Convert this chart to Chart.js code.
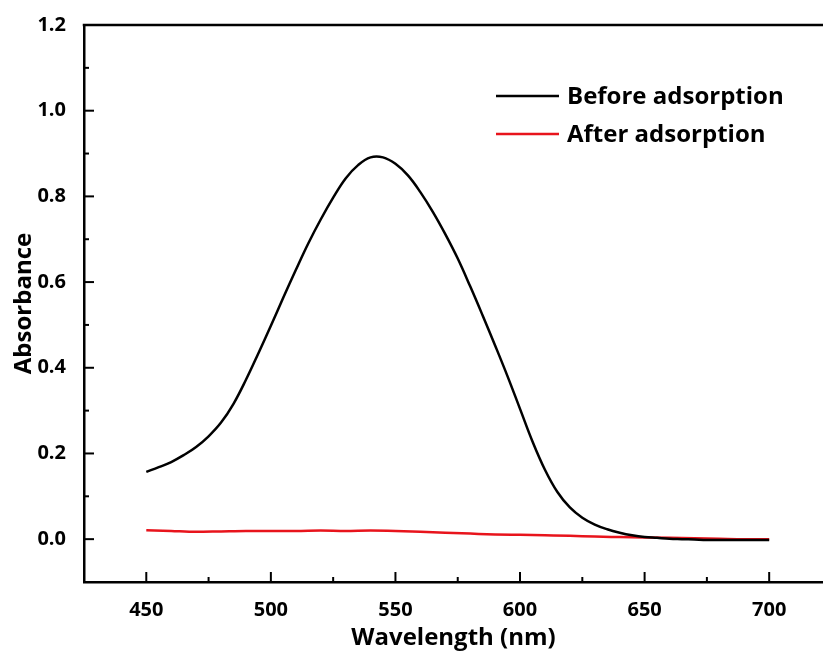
<!DOCTYPE html>
<html>
<head>
<meta charset="utf-8">
<script src="https://cdn.jsdelivr.net/npm/chart.js@4.4.1/dist/chart.umd.min.js"></script>
<style>
  html, body { margin: 0; padding: 0; background: #fff; }
  #wrap { width: 823px; height: 653px; }
</style>
</head>
<body>
<div id="wrap"><canvas id="uvChart" width="823" height="653"></canvas></div>
<script>
// UV-vis spectra, values
const wavelengthBefore = [450, 455, 460, 465, 470, 475, 480, 485, 490, 495, 500, 505, 510, 515, 520, 525, 530, 535, 540, 545,
    550, 555, 560, 565, 570, 575, 580, 585, 590, 595, 600, 605, 610, 615, 620, 625, 630, 635, 640, 645,
    650, 655, 660, 665, 670, 675, 680, 685, 690, 695, 700];
const absBefore = [0.157, 0.168, 0.180, 0.196, 0.215, 0.240, 0.272, 0.316, 0.372, 0.434, 0.498, 0.564, 0.628, 0.690, 0.746, 0.797, 0.842, 0.873, 0.891, 0.891,
    0.876, 0.849, 0.810, 0.764, 0.712, 0.655, 0.590, 0.522, 0.452, 0.380, 0.304, 0.228, 0.162, 0.110, 0.074, 0.050, 0.034, 0.023, 0.015, 0.009,
    0.005, 0.003, 0.001, 0.000, -0.001, -0.002, -0.002, -0.002, -0.002, -0.002, -0.002];

const wavelengthAfter = [450, 460, 470, 480, 490, 500, 510, 520, 530, 540, 550, 560, 570, 580, 590, 600, 610, 620, 630, 640, 650, 660, 670, 680, 690, 700];
const absAfter = [0.021, 0.019, 0.017, 0.018, 0.019, 0.019, 0.019, 0.020, 0.019, 0.020, 0.019, 0.017, 0.015, 0.013, 0.011, 0.010, 0.009, 0.008, 0.006, 0.005, 0.004, 0.003, 0.002, 0.001, 0.000, 0.000];

const seriesLabels = ['Before adsorption', 'After adsorption'];
const xTicks = [450, 475, 500, 525, 550, 575, 600, 625, 650, 675, 700];
const yTicks = [-0.1, 0.0, 0.1, 0.2, 0.3, 0.4, 0.5, 0.6, 0.7, 0.8, 0.9, 1.0, 1.1, 1.2];

const FONT = "'Open Sans', 'Noto Sans', sans-serif";

const toPoints = (xs, ys) => xs.map((x, i) => ({ x: x, y: ys[i] }));

// inward tick marks + top frame line
const frameTicks = {
    id: 'frameTicks',
    afterDraw(chart) {
        const ctx = chart.ctx;
        const a = chart.chartArea;
        const xs = chart.scales.x, ys = chart.scales.y;
        ctx.save();
        ctx.strokeStyle = '#000';
        ctx.lineWidth = 2.5;
        ctx.beginPath();
        ctx.moveTo(a.left - 1.25, a.top);
        ctx.lineTo(chart.width, a.top);
        ctx.stroke();
        ctx.lineWidth = 2;
        xTicks.forEach(v => {
            const px = xs.getPixelForValue(v);
            const len = v % 50 === 0 ? 10 : 5;
            ctx.beginPath();
            ctx.moveTo(px, a.bottom);
            ctx.lineTo(px, a.bottom - len);
            ctx.stroke();
        });
        yTicks.forEach(v => {
            const py = ys.getPixelForValue(v);
            const major = Math.abs(Math.round(v * 10) % 2) === 0;
            ctx.beginPath();
            ctx.moveTo(a.left, py);
            ctx.lineTo(a.left + (major ? 10 : 5), py);
            ctx.stroke();
        });
        ctx.restore();
    }
};

// legend drawn inside the plot, top right
const innerLegend = {
    id: 'innerLegend',
    afterDraw(chart) {
        const ctx = chart.ctx;
        ctx.save();
        ctx.font = 'bold 24px ' + FONT;
        ctx.textBaseline = 'middle';
        chart.data.datasets.forEach((ds, i) => {
            const y = 96 + i * 38;
            ctx.strokeStyle = ds.borderColor;
            ctx.lineWidth = 2.5;
            ctx.beginPath();
            ctx.moveTo(496, y);
            ctx.lineTo(559, y);
            ctx.stroke();
            ctx.fillStyle = '#000';
            ctx.fillText(ds.label, 567, y + 1);
        });
        ctx.restore();
    }
};

new Chart(document.getElementById('uvChart'), {
    type: 'line',
    data: {
        datasets: [{
            label: seriesLabels[0],
            data: toPoints(wavelengthBefore, absBefore),
            borderColor: '#000000',
            borderWidth: 2.5,
            pointRadius: 0,
            tension: 0.4,
            fill: false
        }, {
            label: seriesLabels[1],
            data: toPoints(wavelengthAfter, absAfter),
            borderColor: '#e8141c',
            borderWidth: 2.5,
            pointRadius: 0,
            cubicInterpolationMode: 'monotone',
            fill: false
        }]
    },
    options: {
        responsive: false,
        animation: false,
        layout: { padding: { top: 25, right: 0, left: 0, bottom: 0 } },
        plugins: {
            legend: { display: false },
            tooltip: { enabled: false }
        },
        scales: {
            x: {
                type: 'linear',
                min: 425,
                max: 721.6,
                afterBuildTicks: scale => { scale.ticks = xTicks.map(v => ({ value: v })); },
                afterFit: scale => { scale.height = 71; },
                grid: { display: false },
                border: { display: true, color: '#000', width: 2.5 },
                ticks: {
                    color: '#000',
                    font: { family: FONT, size: 20, weight: 'bold' },
                    padding: 8,
                    maxRotation: 0,
                    autoSkip: false,
                    callback: v => (v % 50 === 0 ? String(v) : '')
                },
                title: {
                    display: true,
                    text: 'Wavelength (nm)',
                    color: '#000',
                    font: { family: FONT, size: 24, weight: 'bold' },
                    padding: { top: 3, bottom: 0 }
                }
            },
            y: {
                type: 'linear',
                min: -0.1,
                max: 1.2,
                afterBuildTicks: scale => { scale.ticks = yTicks.map(v => ({ value: v })); },
                afterFit: scale => { scale.width = 84; },
                grid: { display: false },
                border: { display: true, color: '#000', width: 2.5 },
                ticks: {
                    color: '#000',
                    font: { family: FONT, size: 20, weight: 'bold' },
                    padding: 10,
                    autoSkip: false,
                    callback: v => {
                        const r = Math.round(v * 10);
                        return (r % 2 === 0 && r >= 0) ? (r / 10).toFixed(1) : '';
                    }
                },
                title: {
                    display: true,
                    text: 'Absorbance',
                    color: '#000',
                    font: { family: FONT, size: 24, weight: 'bold' },
                    padding: { top: 10, bottom: 4 }
                }
            }
        }
    },
    plugins: [frameTicks, innerLegend]
});
</script>
</body>
</html>
